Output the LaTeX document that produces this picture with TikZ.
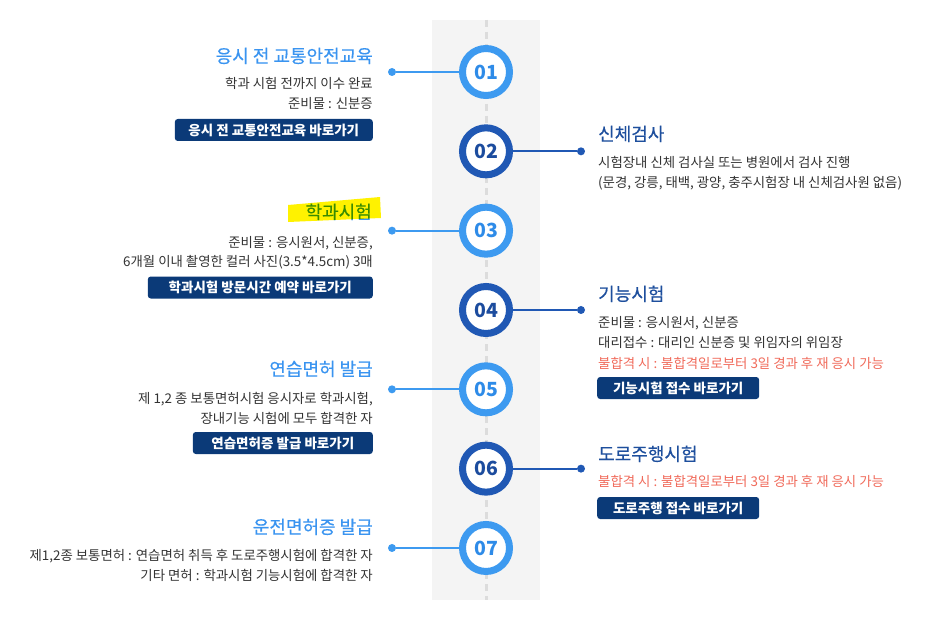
\documentclass[tikz,border=0pt]{standalone}
\usepackage{fontspec}
\setmainfont{Noto Sans CJK KR}
\newfontfamily\krtitle[FakeBold=0.4]{Noto Sans CJK KR}
\usetikzlibrary{positioning}
\definecolor{lring}{HTML}{3D9AF0}
\definecolor{dring}{HTML}{2058B4}
\definecolor{lnum}{HTML}{2E8BE8}
\definecolor{dnum}{HTML}{1C4C9E}
\definecolor{ltitle}{HTML}{3A94F0}
\definecolor{dtitle}{HTML}{1E4F9D}
\definecolor{bodytext}{HTML}{333333}
\definecolor{warn}{HTML}{F06A5A}
\definecolor{navy}{HTML}{0B3A78}
\definecolor{band}{HTML}{F4F4F4}
\definecolor{dashgray}{HTML}{DCDCDC}
\newcommand\bodyfont{\fontsize{13.4}{16}\selectfont}
\newcommand\ttlfont{\krtitle\fontsize{18}{20}\selectfont}
\newcommand\btnfont{\bfseries\fontsize{13.5}{16}\selectfont}
\newcommand\numfont{\bfseries\fontsize{19.5}{20}\selectfont}

\begin{document}
\begin{tikzpicture}[x=1pt, y=-1pt,
    stepring/.style={circle, draw=#1, line width=7pt, fill=white, minimum size=47pt, inner sep=0pt},
    dot/.style={circle, fill=#1, minimum size=8pt, inner sep=0pt},
    title/.style={inner sep=0pt, text height=13.5pt, text depth=2.2pt, font=\ttlfont},
    body/.style={inner sep=0pt, text height=10pt, text depth=1.6pt, text=bodytext, font=\bodyfont},
    btn/.style={fill=navy, rounded corners=3pt, text=white, minimum height=22pt, inner sep=0pt, font=\btnfont}]
    \useasboundingbox (0,0) rectangle (927,623);
    \fill[band] (432,20) rectangle (540,600);
    \coordinate (top) at (486,20);
    \coordinate (bottom) at (486,600);
    \draw[dashgray, line width=3pt, dash pattern=on 7pt off 5pt] (top) -- (bottom);
    \foreach \clr/\num/\dx [count=\i from 1] in {lring/lnum/392, dring/dnum/581, lring/lnum/392, dring/dnum/581, lring/lnum/392, dring/dnum/581, lring/lnum/392}
    {
        \pgfmathsetmacro\cy{72+79.33*(\i-1)}
        \node[stepring=\clr, text=\num, font=\numfont] (c\i) at (486,\cy) {0\i};
        \node[dot=\clr] (d\i) at (\dx,\cy) {};
        \draw[\clr, line width=2pt] (c\i) -- (d\i);
    }

    \node[title, anchor=east, text=ltitle] (t1) at (373,57) {응시 전 교통안전교육};
    \node[body, anchor=east] (t1a) at (373,84) {학과 시험 전까지 이수 완료};
    \node[body, anchor=east] (t1b) at (373,104) {준비물 : 신분증};
    \node[btn, anchor=east, minimum width=198pt] (b1) at (373,130) {응시 전 교통안전교육 바로가기};

    \node[title, anchor=west, text=dtitle] (t2) at (598,135) {신체검사};
    \node[body, anchor=west] (t2a) at (598,163) {시험장내 신체 검사실 또는 병원에서 검사 진행};
    \node[body, anchor=west] (t2b) at (598,183) {(문경, 강릉, 태백, 광양, 충주시험장 내 신체검사원 없음)};

    \node[title, anchor=east, text=ltitle] (t3) at (372,213) {학과시험};
    \fill[yellow, blend mode=multiply] (288,205) -- (380,197) -- (381,218) -- (288,222) -- cycle;
    \node[body, anchor=east] (t3a) at (373,243) {준비물 : 응시원서, 신분증,};
    \node[body, anchor=east] (t3b) at (373,262) {6개월 이내 촬영한 컬러 사진(3.5*4.5cm) 3매};
    \node[btn, anchor=east, minimum width=225pt] (b3) at (373,287.5) {학과시험 방문시간 예약 바로가기};

    \node[title, anchor=west, text=dtitle] (t4) at (598,295) {기능시험};
    \node[body, anchor=west] (t4a) at (598,323) {준비물 : 응시원서, 신분증};
    \node[body, anchor=west] (t4b) at (598,343) {대리접수 : 대리인 신분증 및 위임자의 위임장};
    \node[body, anchor=west, text=warn] (t4c) at (598,364) {불합격 시 : 불합격일로부터 3일 경과 후 재 응시 가능};
    \node[btn, anchor=west, minimum width=162pt] (b4) at (597,388) {기능시험 접수 바로가기};

    \node[title, anchor=east, text=ltitle] (t5) at (373,370) {연습면허 발급};
    \node[body, anchor=east] (t5a) at (373,399) {제 1,2 종 보통면허시험 응시자로 학과시험,};
    \node[body, anchor=east] (t5b) at (373,419) {장내기능 시험에 모두 합격한 자};
    \node[btn, anchor=east, minimum width=180pt] (b5) at (373,443) {연습면허증 발급 바로가기};

    \node[title, anchor=west, text=dtitle] (t6) at (598,455) {도로주행시험};
    \node[body, anchor=west, text=warn] (t6a) at (598,482) {불합격 시 : 불합격일로부터 3일 경과 후 재 응시 가능};
    \node[btn, anchor=west, minimum width=162pt] (b6) at (597,508) {도로주행 접수 바로가기};

    \node[title, anchor=east, text=ltitle] (t7) at (373,528) {운전면허증 발급};
    \node[body, anchor=east] (t7a) at (373,556) {제1,2종 보통면허 : 연습면허 취득 후 도로주행시험에 합격한 자};
    \node[body, anchor=east] (t7b) at (373,576) {기타 면허 : 학과시험 기능시험에 합격한 자};
\end{tikzpicture}
\end{document}
